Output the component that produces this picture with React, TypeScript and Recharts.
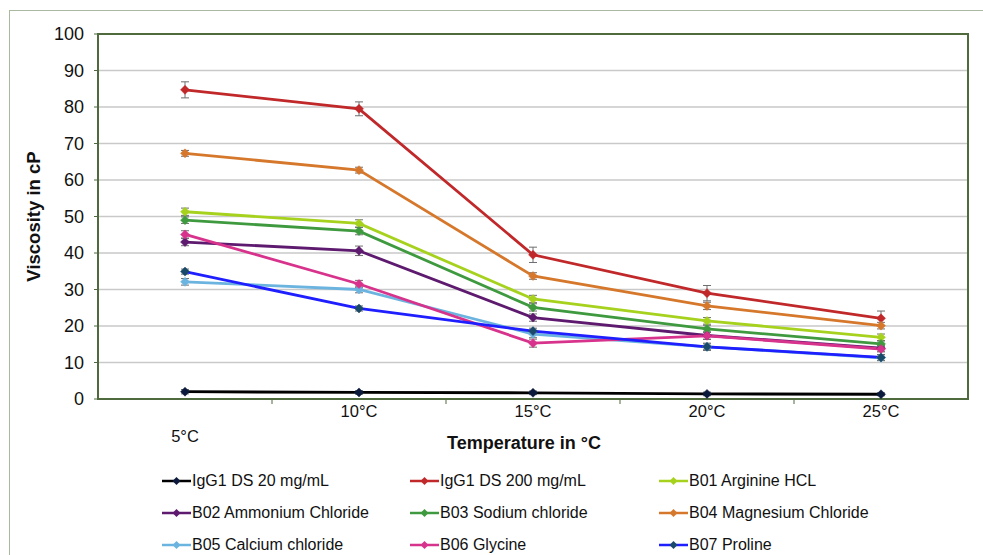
import React from "react";
import {
  LineChart,
  Line,
  XAxis,
  YAxis,
  CartesianGrid,
  ErrorBar,
  Legend,
  Label,
  ReferenceArea,
} from "recharts";

const temps = ["5°C", "10°C", "15°C", "20°C", "25°C"];

const igg20 = [2.0, 1.8, 1.7, 1.4, 1.3];
const igg20Err = [0.6, 0.5, 0.5, 0.5, 0.4];
const igg200 = [84.7, 79.5, 39.5, 29.0, 22.1];
const igg200Err = [2.2, 1.9, 2.1, 2.1, 2.0];
const b01 = [51.3, 48.1, 27.4, 21.4, 16.9];
const b01Err = [1.0, 1.0, 1.0, 0.9, 0.9];
const b02 = [43.0, 40.6, 22.3, 17.4, 13.9];
const b02Err = [1.0, 1.3, 1.0, 1.0, 0.8];
const b03 = [49.0, 46.0, 25.1, 19.2, 15.1];
const b03Err = [0.9, 1.0, 1.0, 1.0, 0.8];
const b04 = [67.3, 62.7, 33.7, 25.5, 20.1];
const b04Err = [0.8, 0.8, 0.9, 1.0, 0.9];
const b05 = [32.1, 30.0, 17.8, 14.3, 11.3];
const b05Err = [0.9, 0.9, 1.0, 1.0, 0.8];
const b06 = [45.1, 31.5, 15.3, 17.3, 13.7];
const b06Err = [1.0, 1.0, 1.1, 1.0, 0.8];
const b07 = [34.9, 24.8, 18.6, 14.3, 11.4];
const b07Err = [0.7, 0.7, 0.8, 0.8, 0.8];

const yTicks = [0, 10, 20, 30, 40, 50, 60, 70, 80, 90, 100];

const series = [
  { key: "igg20", name: "IgG1 DS 20 mg/mL", color: "#000000", dot: "#0b1a3c", values: igg20, err: igg20Err },
  { key: "igg200", name: "IgG1 DS 200 mg/mL", color: "#c0282a", dot: "#c0282a", values: igg200, err: igg200Err },
  { key: "b01", name: "B01 Arginine HCL", color: "#a6d21e", dot: "#a6d21e", values: b01, err: b01Err },
  { key: "b02", name: "B02 Ammonium Chloride", color: "#5e1a6e", dot: "#5e1a6e", values: b02, err: b02Err },
  { key: "b03", name: "B03 Sodium chloride", color: "#3f9a3f", dot: "#3f9a3f", values: b03, err: b03Err },
  { key: "b04", name: "B04 Magnesium Chloride", color: "#d6782c", dot: "#d6782c", values: b04, err: b04Err },
  { key: "b05", name: "B05 Calcium chloride", color: "#6cb4e0", dot: "#6cb4e0", values: b05, err: b05Err },
  { key: "b06", name: "B06 Glycine", color: "#d8338c", dot: "#d8338c", values: b06, err: b06Err },
  { key: "b07", name: "B07 Proline", color: "#1e1eff", dot: "#1a4a6a", values: b07, err: b07Err },
];

const data = temps.map((t, i) => {
  const row: any = { temp: t };
  series.forEach((s) => {
    row[s.key] = s.values[i];
    row[s.key + "Err"] = s.err[i];
  });
  return row;
});

const FONT = "'Liberation Sans', Arial, Helvetica, sans-serif";
const AXIS_GREEN = "#4f6b3e";

const diamond = (color: string) => (props: any) => {
  const { cx, cy, index } = props;
  if (cx == null || cy == null) return <g key={index} />;
  const r = 4.5;
  return (
    <polygon
      key={index}
      points={`${cx},${cy - r} ${cx + r},${cy} ${cx},${cy + r} ${cx - r},${cy}`}
      fill={color}
      stroke={color}
      strokeWidth={0.5}
    />
  );
};

const TempTick = (props: any) => {
  const { x, y, payload, index } = props;
  const off = payload?.offset ?? 0;
  return (
    <g>
      {index > 0 && (
        <line x1={x - off} x2={x - off} y1={y} y2={y + 5} stroke={AXIS_GREEN} strokeWidth={1} />
      )}
      <text
        x={x}
        y={y + (index === 0 ? 43 : 18)}
        textAnchor="middle"
        fontSize={16.5}
        fontFamily={FONT}
        fill="#111"
      >
        {payload.value}
      </text>
    </g>
  );
};

const renderLegend = () => (
  <div
    style={{
      display: "grid",
      gridTemplateColumns: "248px 249px 300px",
      paddingLeft: 162,
      fontFamily: FONT,
      fontSize: 16,
      color: "#111",
    }}
  >
    {series.map((s) => (
      <div key={s.key} style={{ height: 32, display: "flex", alignItems: "center" }}>
        <svg width={29} height={10} style={{ marginRight: 1 }}>
          <line x1={0} x2={29} y1={5} y2={5} stroke={s.color} strokeWidth={2.5} />
          <polygon points="14.5,1 18.5,5 14.5,9 10.5,5" fill={s.dot} />
        </svg>
        <span>{s.name}</span>
      </div>
    ))}
  </div>
);

const App = () => {
  return (
    <div style={{ position: "absolute", left: 0, top: 0, width: 983, height: 555, background: "#fff" }}>
      <div
        style={{
          position: "absolute",
          left: 9,
          top: 10,
          right: 0,
          bottom: 0,
          borderTop: "1.5px solid #a9b89f",
          borderLeft: "1.5px solid #a9b89f",
        }}
      />
      <LineChart
        width={983}
        height={555}
        data={data}
        margin={{ top: 34, right: 15, left: 0, bottom: 96 }}
      >
        <CartesianGrid horizontal vertical={false} stroke="#c9c9c9" strokeWidth={1.5} />
        <ReferenceArea y1={0} y2={100} fill="none" stroke={AXIS_GREEN} strokeWidth={2} />
        <XAxis
          dataKey="temp"
          scale="band"
          height={60}
          axisLine={{ stroke: AXIS_GREEN, strokeWidth: 2 }}
          tickLine={false}
          tickSize={0}
          tickMargin={0}
          interval={0}
          tick={<TempTick />}
        >
          <Label
            value="Temperature in °C"
            position="insideBottom"
            offset={10}
            dx={-9}
            style={{ fontFamily: FONT, fontSize: 18, fontWeight: "bold", fill: "#111" }}
          />
        </XAxis>
        <YAxis
          width={98}
          domain={[0, 100]}
          ticks={yTicks}
          interval={0}
          axisLine={{ stroke: AXIS_GREEN, strokeWidth: 2 }}
          tickLine={{ stroke: AXIS_GREEN }}
          tickSize={4}
          tickMargin={10}
          tick={{ fontFamily: FONT, fontSize: 18, fill: "#111" }}
        >
          <Label
            content={({ viewBox }: any) => {
              const cx = (viewBox?.x ?? 0) + 33;
              const cy = (viewBox?.y ?? 0) + (viewBox?.height ?? 0) / 2;
              return (
                <text
                  x={cx}
                  y={cy}
                  transform={`rotate(-90 ${cx} ${cy})`}
                  textAnchor="middle"
                  dominantBaseline="central"
                  fontFamily={FONT}
                  fontSize={18.5}
                  fontWeight="bold"
                  fill="#111"
                >
                  Viscosity in cP
                </text>
              );
            }}
          />
        </YAxis>
        {series.map((s) => (
          <Line
            key={s.key}
            type="linear"
            dataKey={s.key}
            name={s.name}
            stroke={s.color}
            strokeWidth={2.8}
            dot={diamond(s.dot)}
            activeDot={false}
            isAnimationActive={false}
          >
            <ErrorBar
              dataKey={s.key + "Err"}
              width={4}
              stroke="#6e6e6e"
              strokeWidth={1}
              direction="y"
            />
          </Line>
        ))}
        <Legend
          layout="horizontal"
          verticalAlign="middle"
          align="center"
          wrapperStyle={{ top: 465, left: 0, width: 983 }}
          content={renderLegend}
        />
      </LineChart>
    </div>
  );
};

export default App;
